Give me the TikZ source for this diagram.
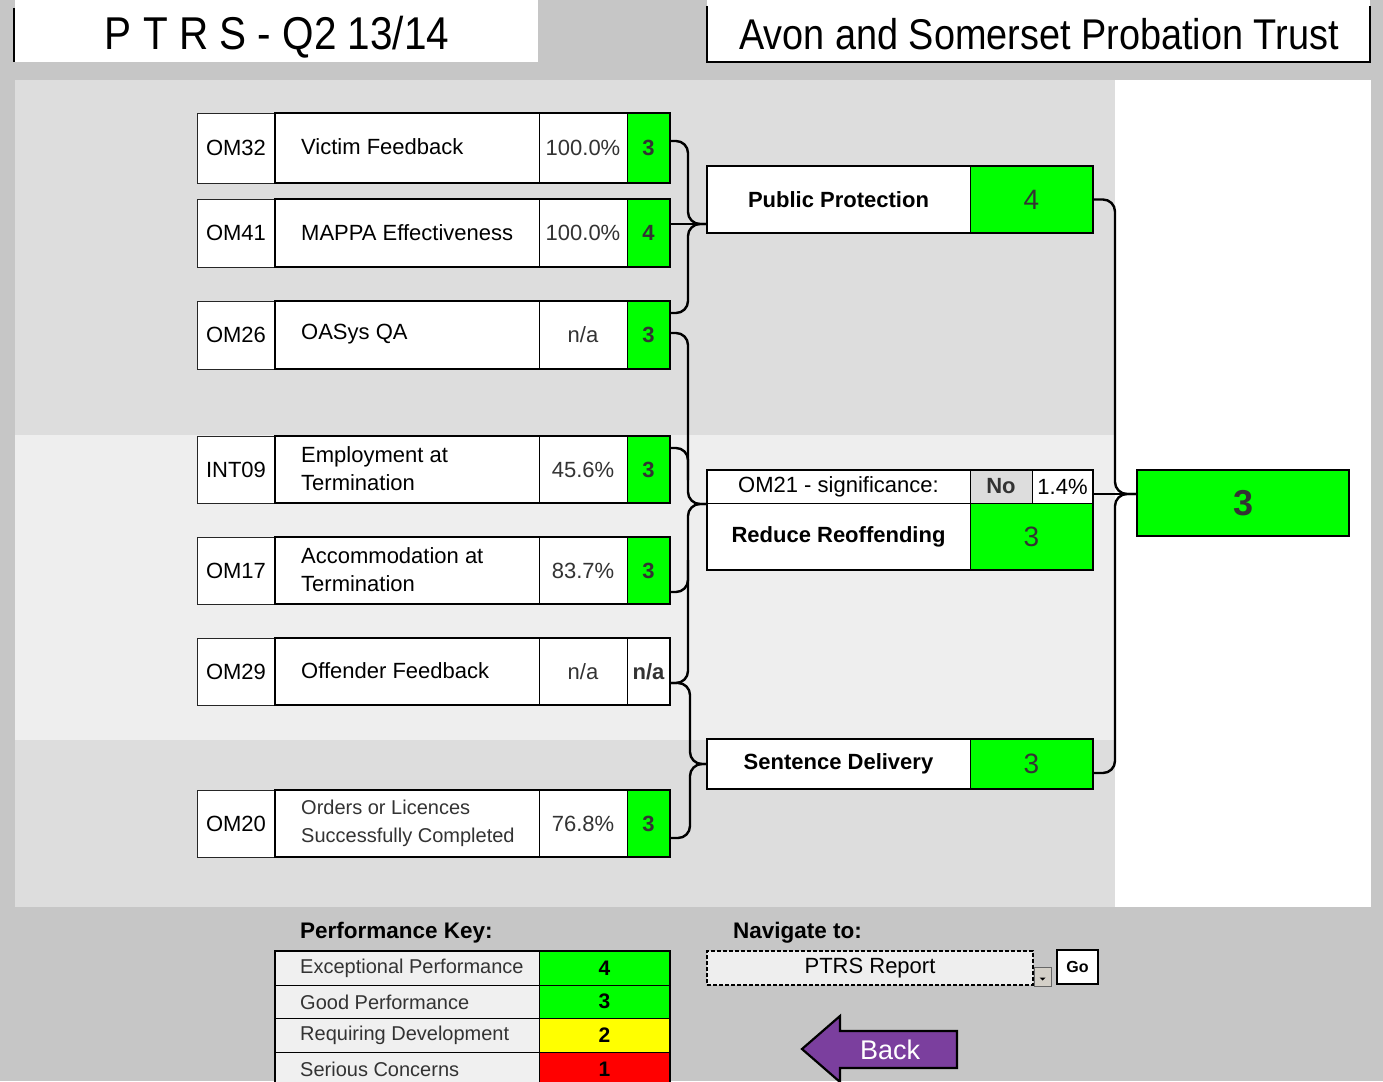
\documentclass[tikz,border=0pt]{standalone}
\usepackage{fontspec}
\setmainfont{Liberation Sans}
\newfontfamily\hdrfont[FakeStretch=0.88]{Liberation Sans}
\usetikzlibrary{calc}
\definecolor{bggray}{HTML}{C6C6C6}
\definecolor{panel}{HTML}{DDDDDD}
\definecolor{panelmid}{HTML}{EEEEEE}
\definecolor{keycell}{HTML}{F0F0F0}
\definecolor{grn}{HTML}{00FF00}
\definecolor{ylw}{HTML}{FFFF00}
\definecolor{rd}{HTML}{FF0000}
\definecolor{txtgray}{HTML}{333333}
\definecolor{purp}{HTML}{7B3F9E}
\definecolor{btn}{HTML}{D4D0C8}

\tikzset{
  base/.style={anchor=north west, inner sep=0pt, outer sep=0pt},
  codecell/.style={base, draw=black!85, line width=0.9pt, fill=white, minimum width=78pt, font=\fontsize{22}{26}\selectfont},
  namecell/.style={base, draw=black, line width=0.9pt, fill=white, minimum width=264pt},
  valcell/.style={base, draw=black, line width=0.9pt, fill=white, minimum width=88pt, text=txtgray, font=\fontsize{22}{26}\selectfont},
  scorecell/.style={base, draw=black, line width=0.9pt, minimum width=43pt, text=txtgray, font=\bfseries\fontsize{22}{26}\selectfont},
  outerln/.style={line width=2pt},
  lbl/.style={anchor=west, inner sep=0pt, align=left, font=\fontsize{22}{28}\selectfont},
  conn/.style={line width=2.4pt, rounded corners=12pt},
  rbox/.style={base, draw=black, line width=0.9pt, fill=white, font=\bfseries\fontsize{22}{26}\selectfont},
  rscore/.style={base, draw=black, line width=0.9pt, fill=grn, text=txtgray, font=\fontsize{28}{32}\selectfont},
  keyl/.style={base, draw=black, line width=0.9pt, fill=keycell, minimum width=264pt},
  keyr/.style={base, draw=black, line width=0.9pt, minimum width=131pt, font=\bfseries\fontsize{21}{24}\selectfont},
  keylbl/.style={anchor=west, inner sep=0pt, text=txtgray, font=\fontsize{20}{24}\selectfont},
  heading/.style={anchor=west, inner sep=0pt, font=\bfseries\fontsize{22.5}{26}\selectfont},
}

\newcommand\mrow[7]{%
  \node[codecell, minimum height=#3pt] (c#1) at (197,#2) {#4};
  \node[namecell, minimum height=#3pt] (n#1) at (275,#2) {};
  \node[valcell, minimum height=#3pt] (v#1) at (539,#2) {#5};
  \node[scorecell, fill=#7, minimum height=#3pt] (s#1) at (627,#2) {#6};
  \draw[outerln] (n#1.north west) rectangle (s#1.south east);
}

\begin{document}
\begin{tikzpicture}[x=1pt, y=-1pt]
\useasboundingbox (0,0) rectangle (1383,1081);
\clip (0,0) rectangle (1383,1081);
% backgrounds
\fill[bggray] (0,0) rectangle (1383,1081);
\fill[panel] (15,80) rectangle (1115,907);
\fill[panelmid] (15,435) rectangle (1115,740);
\fill[white] (1115,80) rectangle (1371,907);

% header
\fill[white] (15,0) rectangle (538,62);
\draw[line width=2pt] (14,8) -- (14,62);
\node[anchor=base, inner sep=0pt, font=\hdrfont\fontsize{46}{50}\selectfont] (title) at (277,50) {P T R S - Q2 13/14};
\fill[white] (707,0) rectangle (1370,62);
\draw[line width=2pt] (707,6) -- (707,62) -- (1370,62) -- (1370,6);
\node[anchor=base, inner sep=0pt, font=\hdrfont\fontsize{43}{48}\selectfont] (org) at (1039,50) {Avon and Somerset Probation Trust};

% measure rows
\mrow{32}{113}{70}{OM32}{100.0\%}{3}{grn}
\mrow{41}{199}{68}{OM41}{100.0\%}{4}{grn}
\mrow{26}{301}{68}{OM26}{n/a}{3}{grn}
\mrow{09}{436}{67}{INT09}{45.6\%}{3}{grn}
\mrow{17}{537}{67}{OM17}{83.7\%}{3}{grn}
\mrow{29}{638}{67}{OM29}{n/a}{n/a}{white}
\mrow{20}{790}{67}{OM20}{76.8\%}{3}{grn}

\node[lbl] (t32) at (301,147) {Victim Feedback};
\node[lbl] (t41) at (301,233) {MAPPA Effectiveness};
\node[lbl] (t26) at (301,334) {OASys QA};
\node[lbl] (t09) at (301,469) {Employment at\\Termination};
\node[lbl] (t17) at (301,570) {Accommodation at\\Termination};
\node[lbl] (t29) at (301,671) {Offender Feedback};
\node[lbl, text=txtgray, font=\fontsize{20}{28}\selectfont] (t20) at (301,823) {Orders or Licences\\Successfully Completed};

% outcome boxes
\node[rbox, minimum width=263pt, minimum height=67pt] (pp) at (707,166) {Public Protection};
\node[rscore, minimum width=123pt, minimum height=67pt] (pps) at (970,166) {4};
\draw[outerln] (pp.north west) rectangle (pps.south east);

\node[base, draw=black, line width=0.9pt, fill=white, minimum width=263pt, minimum height=33pt, font=\fontsize{22}{26}\selectfont] (om21) at (707,470) {OM21 - significance:};
\node[base, draw=black, line width=0.9pt, fill=panel, minimum width=62pt, minimum height=33pt, text=txtgray, font=\bfseries\fontsize{22}{26}\selectfont] (no) at (970,470) {No};
\node[base, draw=black, line width=0.9pt, fill=white, minimum width=61pt, minimum height=33pt, font=\fontsize{22}{26}\selectfont] (pct) at (1032,470) {1.4\%};
\node[rbox, minimum width=263pt, minimum height=67pt] (rr) at (707,503) {Reduce Reoffending};
\node[rscore, minimum width=123pt, minimum height=67pt] (rrs) at (970,503) {3};
\draw[outerln] (om21.north west) rectangle (rrs.south east);

\node[rbox, minimum width=263pt, minimum height=50pt] (sd) at (707,739) {Sentence Delivery};
\node[rscore, minimum width=123pt, minimum height=50pt] (sds) at (970,739) {3};
\draw[outerln] (sd.north west) rectangle (sds.south east);

\node[base, draw=black, line width=2pt, fill=grn, minimum width=212pt, minimum height=66pt, text=txtgray, font=\bfseries\fontsize{36}{40}\selectfont] (ov) at (1137,470) {3};

% connectors
\coordinate (pptip) at ($(pp.north west)+(0,58)$);
\draw[conn] ($(s32.north east)+(0,28)$) -| ($(pptip)+(-19,0)$) -- (pptip);
\draw[conn] ($(s41.north east)+(0,25)$) -- (pptip);
\draw[conn] ($(s26.north east)+(0,12)$) -| ($(pptip)+(-19,0)$) -- (pptip);

\coordinate (rrtip) at ($(rr.north west)+(0,1)$);
\draw[conn] ($(s26.north east)+(0,32)$) -| ($(rrtip)+(-19,0)$) -- (rrtip);
\draw[conn] ($(s29.north east)+(0,45)$) -| ($(rrtip)+(-19,0)$) -- (rrtip);
\draw[conn] ($(s09.north east)+(0,12)$) -- ++(18,0) -- ++(0,32);
\draw[conn] ($(s17.north east)+(0,55)$) -- ++(18,0) -- ++(0,-32);

\coordinate (sdtip) at (sd.west);
\draw[conn] ($(s29.north east)+(0,45)$) -| ($(sdtip)+(-17,0)$) -- (sdtip);
\draw[conn] ($(s20.north east)+(0,48)$) -| ($(sdtip)+(-17,0)$) -- (sdtip);

\coordinate (ovtip) at ($(ov.north west)+(0,24)$);
\draw[conn] (pps.east) -| ($(ovtip)+(-22,0)$) -- (ovtip);
\draw[conn] ($(sds.south east)+(0,-16)$) -| ($(ovtip)+(-22,0)$) -- (ovtip);
\draw[conn] ($(pct.north east)+(0,24)$) -- (ovtip);

% performance key
\node[heading] (pkh) at (300,933) {Performance Key:};
\node[keyl, minimum height=34pt] (k4) at (275,951) {};
\node[keyr, fill=grn, minimum height=34pt] (k4n) at (539,951) {4};
\node[keyl, minimum height=33pt] (k3) at (275,985) {};
\node[keyr, fill=grn, minimum height=33pt] (k3n) at (539,985) {3};
\node[keyl, minimum height=34pt] (k2) at (275,1018) {};
\node[keyr, fill=ylw, minimum height=34pt] (k2n) at (539,1018) {2};
\node[keyl, minimum height=34pt] (k1) at (275,1052) {};
\node[keyr, fill=rd, minimum height=34pt] (k1n) at (539,1052) {1};
\draw[outerln] (k4.north west) rectangle (k1n.south east);
\node[keylbl] (k4t) at (300,968) {Exceptional Performance};
\node[keylbl] (k3t) at (300,1002) {Good Performance};
\node[keylbl] (k2t) at (300,1035) {Requiring Development};
\node[keylbl] (k1t) at (300,1069) {Serious Concerns};

% navigation
\node[heading] (navh) at (733,933) {Navigate to:};
\node[base, draw=black, line width=1.2pt, dash pattern=on 4pt off 2pt, fill=panelmid, minimum width=326pt, minimum height=34pt, font=\fontsize{22}{26}\selectfont] (dd) at (707,951) {PTRS Report};
\node[base, draw=black!60, line width=0.8pt, fill=btn, minimum width=17pt, minimum height=19pt] (ddb) at (1034,967) {};
\fill[black] ($(ddb.center)+(-3,1)$) -- ($(ddb.center)+(3,1)$) -- ($(ddb.center)+(0,4)$) -- cycle;
\node[base, draw=black, line width=1.6pt, fill=white, minimum width=41pt, minimum height=34pt, font=\bfseries\fontsize{16}{18}\selectfont] (go) at (1057,950) {Go};

% back arrow
\draw[line width=2.2pt, fill=purp, line join=miter] (802,1049) -- (840,1016) -- (840,1031) -- (957,1031) -- (957,1068) -- (840,1068) -- (840,1082) -- cycle;
\node[text=white, inner sep=0pt, font=\fontsize{27}{30}\selectfont] (back) at (890,1050) {Back};
\end{tikzpicture}
\end{document}
